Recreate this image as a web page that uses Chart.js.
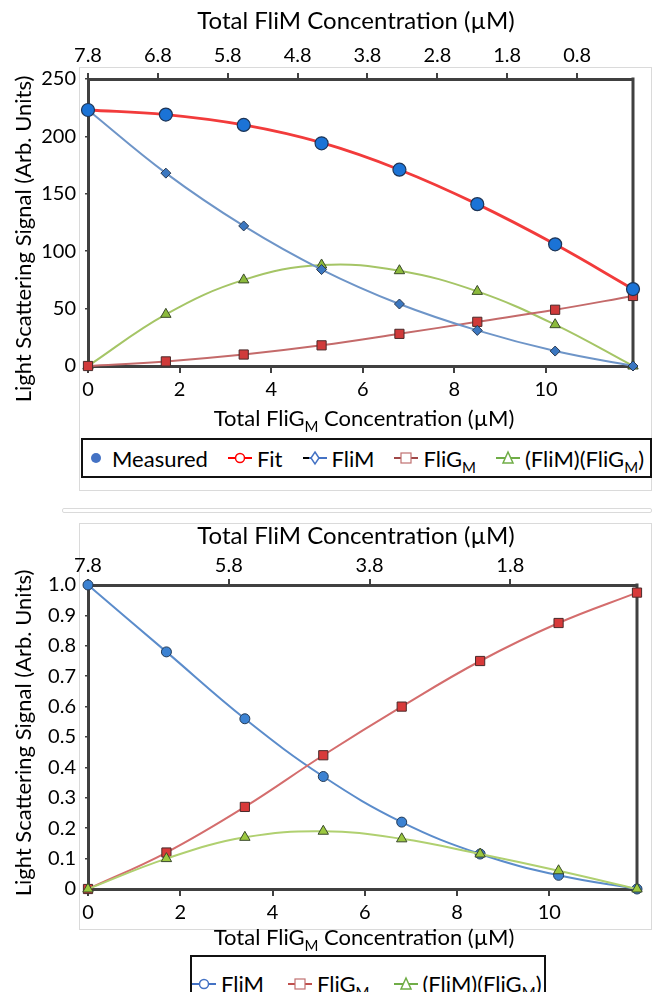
<!DOCTYPE html>
<html>
<head>
<meta charset="utf-8">
<script src="https://cdn.jsdelivr.net/npm/chart.js@4"></script>
<style>
  body { margin:0; background:#fff; width:657px; height:992px; overflow:hidden; position:relative; font-family: Lato, sans-serif; }
  canvas { position:absolute; left:0; z-index:1; }
  #c1 { top:0; }
  #c2 { top:500px; }
  .box { position:absolute; border:1px solid #dadada; z-index:0; }
  .legend { position:absolute; z-index:2; background:#fff; border:2px solid #111; box-sizing:border-box; display:flex; align-items:center; font-size:22px; color:#000; white-space:nowrap; }
  .legend .item { display:flex; align-items:center; }
  .legend svg { margin-right:5px; }
  .legend sub { font-size:15px; vertical-align:-6px; line-height:0; }
  #leg1 { left:81px; top:438px; width:571px; height:40px; padding-left:6px; }
  #leg1 .item { margin-right:20px; }
  #leg2 { left:190px; top:955px; width:356px; height:60px; padding-left:0; align-items:flex-start; padding-top:13px; }
  #leg2 .item { margin-right:24px; }
</style>
</head>
<body>
<div class="box" style="left:79px; top:67px; width:571px; height:422px;"></div>
<div class="box" style="left:62px; top:508px; width:588px; height:3px; border-radius:2px;"></div>
<div class="box" style="left:79px; top:523px; width:571px; height:405px;"></div>
<canvas id="c1" width="657" height="500"></canvas>
<canvas id="c2" width="657" height="492"></canvas>
<div class="legend" id="leg1"></div>
<div class="legend" id="leg2"></div>
<script>
// FliG_M concentration (bottom axis) for every titration point
const fligConc = [0, 1.7, 3.4, 5.1, 6.8, 8.5, 10.2, 11.9];
const fligTicks = [0, 2, 4, 6, 8, 10];
const flimTicksTop = [7.8, 6.8, 5.8, 4.8, 3.8, 2.8, 1.8, 0.8];
const flimTicksBottom = [7.8, 5.8, 3.8, 1.8];
const signalTicksTop = [0, 50, 100, 150, 200, 250];
const signalTicksBottom = [0, 0.1, 0.2, 0.3, 0.4, 0.5, 0.6, 0.7, 0.8, 0.9, 1.0];

// upper panel (arb. units)
const measured = [223, 219, 210, 194, 171, 141, 106, 67];
const fitCurve = [223, 219, 210, 194.5, 171, 141, 106, 67];
const flimUpper = [223, 168, 122, 84, 54, 31, 13, 0];
const fligUpper = [0, 4, 10, 18, 28, 38.5, 49, 61];
const complexUpper = [0, 45, 75, 88, 83, 65, 36, 0];

// lower panel (normalised)
const flimLower = [1.0, 0.78, 0.56, 0.37, 0.22, 0.115, 0.045, 0];
const fligLower = [0, 0.12, 0.27, 0.44, 0.60, 0.75, 0.875, 0.975];
const complexLower = [0, 0.10, 0.17, 0.19, 0.165, 0.115, 0.06, 0];

const pts = ys => fligConc.map((x, i) => ({x: x, y: ys[i]}));
const tickFont = {family: 'Lato', size: 20};
const axisColor = '#404040';

// right-hand side of the plot frame
const frame = {
    id: 'frame',
    beforeDatasetsDraw(chart) {
        const a = chart.chartArea, ctx = chart.ctx;
        ctx.save();
        ctx.strokeStyle = axisColor;
        ctx.lineWidth = 3;
        ctx.beginPath();
        ctx.moveTo(a.right, a.top - 1.5);
        ctx.lineTo(a.right, a.bottom + 1.5);
        ctx.stroke();
        ctx.restore();
    }
};

// axis titles, drawn by hand so the subscript M can be set
function makeTitles(items) {
    return {
        id: 'titles',
        afterDraw(chart) {
            const ctx = chart.ctx;
            items.forEach(it => {
                ctx.save();
                ctx.translate(it.x, it.y);
                if (it.rotate) ctx.rotate(it.rotate);
                ctx.fillStyle = '#000';
                ctx.textBaseline = 'middle';
                ctx.textAlign = 'left';
                const widths = it.parts.map(p => {
                    ctx.font = (p.sub ? 15 : it.size) + 'px Lato';
                    return ctx.measureText(p.t).width;
                });
                let cx = -widths.reduce((s, w) => s + w, 0) / 2;
                it.parts.forEach((p, i) => {
                    ctx.font = (p.sub ? 15 : it.size) + 'px Lato';
                    ctx.fillText(p.t, cx, p.sub ? 8 : 0);
                    cx += widths[i];
                });
                ctx.restore();
            });
        }
    };
}

function scalesFor(o) {
    return {
        x: {
            type: 'linear', position: 'bottom', min: 0, max: 11.9,
            afterBuildTicks: s => { s.ticks = fligTicks.map(v => ({value: v})); },
            afterFit: s => { s.height = o.bottomH; },
            grid: {drawOnChartArea: false, tickLength: 7, color: axisColor, lineWidth: 2},
            border: {color: axisColor, width: 3},
            ticks: {font: tickFont, color: '#000', padding: 5, maxRotation: 0, autoSkip: false, callback: v => String(v)}
        },
        x2: {
            type: 'linear', position: 'top', reverse: true, min: 0, max: 7.8,
            afterBuildTicks: s => { s.ticks = o.topTicks.map(v => ({value: v})); },
            afterFit: s => { s.height = o.topH; },
            grid: {drawOnChartArea: false, tickLength: 6, color: axisColor, lineWidth: 2},
            border: {color: axisColor, width: 3},
            ticks: {font: tickFont, color: '#000', padding: o.topPad, maxRotation: 0, autoSkip: false, callback: v => v.toFixed(1)}
        },
        y: {
            type: 'linear', position: 'left', min: 0, max: o.yMax,
            afterBuildTicks: s => { s.ticks = o.yTicks.map(v => ({value: v})); },
            afterFit: s => { s.width = 88; },
            grid: {drawOnChartArea: false, tickLength: 3, color: axisColor, lineWidth: 1.5},
            border: {color: axisColor, width: 3},
            ticks: {font: tickFont, color: '#000', padding: 9, autoSkip: false, callback: o.yFmt}
        }
    };
}

const common = {
    responsive: false, animation: false, devicePixelRatio: 1,
    plugins: {legend: {display: false}, tooltip: {enabled: false}}
};

new Chart(document.getElementById('c1'), {
    type: 'line',
    data: {
        datasets: [
            {label: 'Measured', data: pts(measured), showLine: false, clip: false, order: 0,
             pointStyle: 'circle', pointRadius: 6.5, pointBackgroundColor: '#1b73d6', pointBorderColor: '#1d3557', pointBorderWidth: 1.2},
            {label: 'Fit', data: pts(fitCurve), clip: false, order: 1, borderColor: '#f23b3b', borderWidth: 2.8, pointRadius: 0, tension: 0.4},
            {label: 'FliM', data: pts(flimUpper), clip: false, order: 2, borderColor: '#6e95c8', borderWidth: 2, tension: 0.4,
             pointStyle: 'rectRot', pointRadius: 5, pointBackgroundColor: '#3b77c0', pointBorderColor: '#2b3a50', pointBorderWidth: 1},
            {label: 'FliGM', data: pts(fligUpper), clip: false, order: 3, borderColor: '#c46a6a', borderWidth: 2, tension: 0.4,
             pointStyle: 'rect', pointRadius: 6.5, pointBackgroundColor: '#d03a3a', pointBorderColor: '#4a2a2a', pointBorderWidth: 1},
            {label: '(FliM)(FliGM)', data: pts(complexUpper), clip: false, order: 4, borderColor: '#a5c566', borderWidth: 2, tension: 0.4,
             pointStyle: 'triangle', pointRadius: 6, pointBackgroundColor: '#8cba3c', pointBorderColor: '#3a4a2a', pointBorderWidth: 1}
        ]
    },
    options: Object.assign({}, common, {
        layout: {padding: {left: 0, right: 24, top: 0, bottom: 0}},
        scales: scalesFor({bottomH: 134, topH: 79, topPad: 5, topTicks: flimTicksTop, yMax: 250, yTicks: signalTicksTop, yFmt: v => String(v)})
    }),
    plugins: [frame, makeTitles([
        {x: 356, y: 21, size: 24, parts: [{t: 'Total FliM Concentration (µM)'}]},
        {x: 24, y: 239, size: 22, rotate: -Math.PI / 2, parts: [{t: 'Light Scattering Signal (Arb. Units)'}]},
        {x: 364, y: 419, size: 22, parts: [{t: 'Total FliG'}, {t: 'M', sub: true}, {t: ' Concentration (µM)'}]}
    ])]
});

new Chart(document.getElementById('c2'), {
    type: 'line',
    data: {
        datasets: [
            {label: 'FliM', data: pts(flimLower), clip: false, order: 2, borderColor: '#5b8ccb', borderWidth: 2, tension: 0.4,
             pointStyle: 'circle', pointRadius: 5, pointBackgroundColor: '#3c82d2', pointBorderColor: '#243a55', pointBorderWidth: 1},
            {label: 'FliGM', data: pts(fligLower), clip: false, order: 1, borderColor: '#d46d6d', borderWidth: 2, tension: 0.4,
             pointStyle: 'rect', pointRadius: 6.5, pointBackgroundColor: '#d83a3a', pointBorderColor: '#4a2a2a', pointBorderWidth: 1},
            {label: '(FliM)(FliGM)', data: pts(complexLower), clip: false, order: 0, borderColor: '#b0d070', borderWidth: 2, tension: 0.4,
             pointStyle: 'triangle', pointRadius: 6, pointBackgroundColor: '#9cc840', pointBorderColor: '#3a4a2a', pointBorderWidth: 1}
        ]
    },
    options: Object.assign({}, common, {
        layout: {padding: {left: 0, right: 20, top: 0, bottom: 0}},
        scales: scalesFor({bottomH: 103, topH: 85, topPad: 1, topTicks: flimTicksBottom, yMax: 1.0, yTicks: signalTicksBottom,
                           yFmt: v => v === 0 ? '0' : v.toFixed(1)})
    }),
    plugins: [frame, makeTitles([
        {x: 356, y: 36, size: 24, parts: [{t: 'Total FliM Concentration (µM)'}]},
        {x: 24, y: 233, size: 22, rotate: -Math.PI / 2, parts: [{t: 'Light Scattering Signal (Arb. Units)'}]},
        {x: 364, y: 438, size: 22, parts: [{t: 'Total FliG'}, {t: 'M', sub: true}, {t: ' Concentration (µM)'}]}
    ])]
});

// legends (HTML, so FliG can carry its subscript)
function marker(m) {
    const w = m.w || 24;
    let s = '<svg width="' + w + '" height="16" viewBox="0 0 ' + w + ' 16">';
    if (m.line) {
        if (m.dash) s += '<line x1="0" y1="8" x2="6" y2="8" stroke="#000" stroke-width="2"/><line x1="6" y1="8" x2="' + w + '" y2="8" stroke="' + m.line + '" stroke-width="2"/>';
        else s += '<line x1="0" y1="8" x2="' + w + '" y2="8" stroke="' + m.line + '" stroke-width="2"/>';
    }
    const c = w / 2, f = m.fill || '#fff', st = m.stroke || m.line;
    if (m.shape === 'dot') s += '<circle cx="7" cy="8" r="5" fill="' + f + '"/>';
    if (m.shape === 'circle') s += '<circle cx="' + c + '" cy="8" r="4.5" fill="' + f + '" stroke="' + st + '" stroke-width="1.5"/>';
    if (m.shape === 'diamond') s += '<polygon points="' + c + ',2 ' + (c + 4) + ',8 ' + c + ',14 ' + (c - 4) + ',8" fill="' + f + '" stroke="' + st + '" stroke-width="1.5"/>';
    if (m.shape === 'square') s += '<rect x="' + (c - 5) + '" y="3" width="10" height="10" fill="' + f + '" stroke="' + st + '" stroke-width="1.2"/>';
    if (m.shape === 'triangle') s += '<polygon points="' + c + ',2 ' + (c + 5) + ',13 ' + (c - 5) + ',13" fill="' + f + '" stroke="' + st + '" stroke-width="1.5"/>';
    return s + '</svg>';
}

const legendUpper = [
    {html: 'Measured', m: {shape: 'dot', fill: '#4472c4', w: 18}},
    {html: 'Fit', m: {shape: 'circle', line: '#ff0000'}},
    {html: 'FliM', m: {shape: 'diamond', line: '#4472c4', dash: true}},
    {html: 'FliG<sub>M</sub>', m: {shape: 'square', line: '#a04848', stroke: '#c07070'}},
    {html: '(FliM)(FliG<sub>M</sub>)', m: {shape: 'triangle', line: '#70ad47'}}
];
const legendLower = [
    {html: 'FliM', m: {shape: 'circle', line: '#4472c4'}},
    {html: 'FliG<sub>M</sub>', m: {shape: 'square', line: '#c0504d', stroke: '#c07070'}},
    {html: '(FliM)(FliG<sub>M</sub>)', m: {shape: 'triangle', line: '#70ad47'}}
];
function fillLegend(id, items) {
    document.getElementById(id).innerHTML = items.map(it =>
        '<span class="item">' + marker(it.m) + '<span>' + it.html + '</span></span>').join('');
}
fillLegend('leg1', legendUpper);
fillLegend('leg2', legendLower);
</script>
</body>
</html>
